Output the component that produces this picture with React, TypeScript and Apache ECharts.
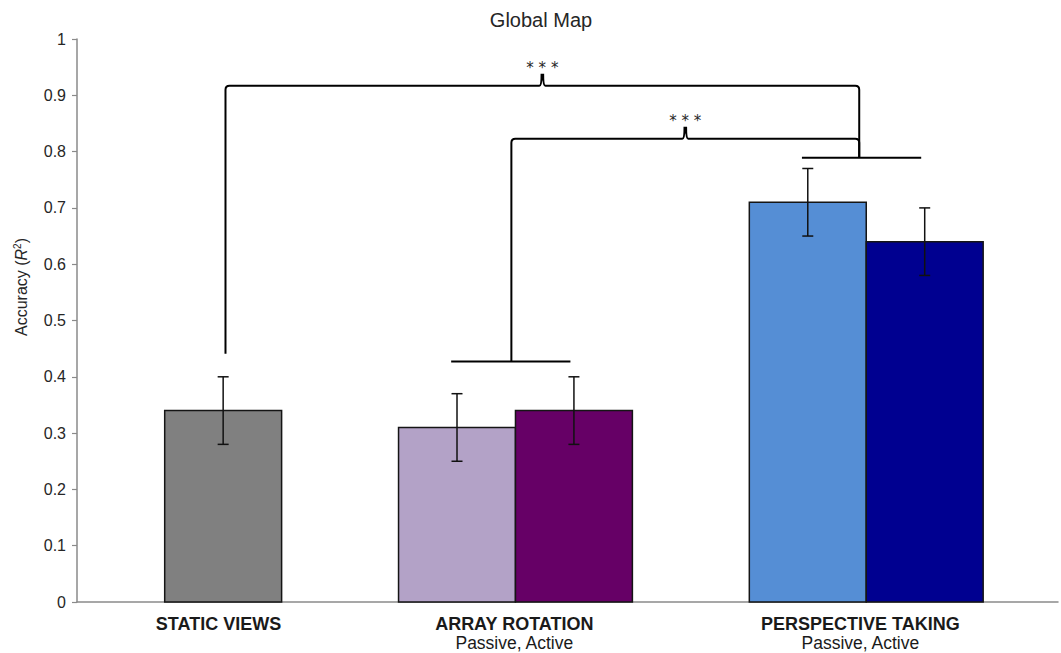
import React, { useEffect, useRef } from "react";
import * as echarts from "echarts";

// ---------- data ----------
const groupNames = ["STATIC VIEWS", "ARRAY ROTATION", "PERSPECTIVE TAKING"];
const groupSubLabels = ["", "Passive, Active", "Passive, Active"];
const barNames = ["Static Views", "Array Rotation Passive", "Array Rotation Active", "Perspective Taking Passive", "Perspective Taking Active"];
const barGroup = [0, 1, 1, 2, 2];
const barValues = [0.34, 0.31, 0.34, 0.71, 0.64];
const barErrors = [0.06, 0.06, 0.06, 0.06, 0.06];
const barColors = ["#808080", "#B3A2C7", "#660066", "#558ED5", "#000090"];

// significance brackets
const groupBracketBase = [0.441, 0.427, 0.789];
const compFrom = [0, 1];
const compTo = [2, 2];
const compLevel = [0.917, 0.823];
const compLabel = ["* * *", "* * *"];

const yTicks = [0, 0.1, 0.2, 0.3, 0.4, 0.5, 0.6, 0.7, 0.8, 0.9, 1];

// ---------- layout (slot units: one bar = 1) ----------
const LEAD = 0.75;
const GAP = 1;
const AXIS_MAX = 8.39;
const groupLeft: number[] = [];
{
  let x = LEAD;
  for (let g = 0; g < groupNames.length; g++) {
    groupLeft.push(x);
    const n = barGroup.filter((b) => b === g).length;
    x += n + GAP;
  }
}
const groupCount = groupNames.map((_, g) => barGroup.filter((b) => b === g).length);
const groupCenter = groupNames.map((_, g) => groupLeft[g] + groupCount[g] / 2);
const labelShift = [-0.04, -0.01, -0.05];
const labelPos = groupCenter.map((c, g) => c + labelShift[g]);
const barLeft = barGroup.map((g, i) => {
  const idx = barGroup.slice(0, i).filter((b) => b === g).length;
  return groupLeft[g] + idx;
});
const legShift = [0.02, -0.035, -0.06];
const lineHalf = 0.51;
const lineCenterShift = -0.04;

const FONT = "'Liberation Sans', Arial, Helvetica, sans-serif";

export default function App() {
  const ref = useRef<HTMLDivElement>(null);
  useEffect(() => {
    if (!ref.current) return;
    const chart = echarts.init(ref.current, undefined, { renderer: "svg" });

    const barData = barValues.map((v, i) => ({
      name: barNames[i],
      value: [barLeft[i], barLeft[i] + 1, v],
    }));
    const errData = barValues.map((v, i) => ({
      name: barNames[i],
      value: [barLeft[i] + 0.5, v - barErrors[i], v + barErrors[i]],
    }));

    const option: any = {
      animation: false,
      backgroundColor: "#ffffff",
      grid: { left: 77, right: 3, top: 39, bottom: 51, containLabel: false },
      xAxis: {
        type: "value",
        min: 0,
        max: AXIS_MAX,
        splitLine: { show: false },
        axisTick: { show: false },
        axisLine: { show: true, lineStyle: { color: "#8a8a8a", width: 1.5 } },
        axisLabel: {
          show: true,
          customValues: labelPos,
          margin: 12,
          formatter: (val: number) => {
            let best = 0;
            labelPos.forEach((c, g) => {
              if (Math.abs(c - val) < Math.abs(labelPos[best] - val)) best = g;
            });
            const sub = groupSubLabels[best];
            return sub ? `{b|${groupNames[best]}}\n{n|${sub}}` : `{b|${groupNames[best]}}`;
          },
          rich: {
            b: { fontFamily: FONT, fontSize: 18, fontWeight: "bold", color: "#1a1a1a", lineHeight: 19 },
            n: { fontFamily: FONT, fontSize: 17.5, color: "#1a1a1a", lineHeight: 19 },
          },
        },
      },
      yAxis: {
        type: "value",
        min: 0,
        max: 1,
        interval: 0.1,
        splitLine: { show: false },
        axisLine: { show: true, lineStyle: { color: "#8a8a8a", width: 1.5 } },
        axisTick: { show: true, inside: false, length: 5, lineStyle: { color: "#8a8a8a", width: 1.2 } },
        axisLabel: {
          margin: 11,
          fontFamily: FONT,
          fontSize: 16,
          color: "#262626",
          formatter: (v: number) => {
            const t = yTicks.find((k) => Math.abs(k - v) < 1e-6);
            return String(t !== undefined ? t : Math.round(v * 10) / 10);
          },
        },
      },
      graphic: [
        {
          type: "text",
          x: 541,
          y: 20,
          style: {
            text: "Global Map",
            fontFamily: FONT,
            fontSize: 20,
            fill: "#262626",
            align: "center",
            verticalAlign: "middle",
          },
        },
        {
          type: "text",
          x: 21,
          y: 287,
          rotation: Math.PI / 2,
          style: {
            text: "{a|Accuracy (}{i|R}{s|2}{a|)}",
            align: "center",
            verticalAlign: "middle",
            rich: {
              a: { fontFamily: FONT, fontSize: 16, fill: "#262626", color: "#262626" },
              i: { fontFamily: FONT, fontSize: 16, fontStyle: "italic", fill: "#262626", color: "#262626" },
              s: { fontFamily: FONT, fontSize: 10, fill: "#262626", color: "#262626", verticalAlign: "top", padding: [0, 0, 7, 0] },
            },
          },
        },
      ],
      series: [
        {
          type: "custom",
          name: "Bars",
          data: barData,
          encode: { x: [0, 1], y: 2 },
          renderItem: (params: any, api: any) => {
            const x0 = api.value(0);
            const x1 = api.value(1);
            const v = api.value(2);
            const p0 = api.coord([x0, v]);
            const p1 = api.coord([x1, 0]);
            return {
              type: "rect",
              shape: { x: p0[0], y: p0[1], width: p1[0] - p0[0], height: p1[1] - p0[1] },
              style: { fill: barColors[params.dataIndex], stroke: "#151515", lineWidth: 1.5 },
            };
          },
        },
        {
          type: "custom",
          name: "Error",
          data: errData,
          encode: { x: 0, y: [1, 2] },
          z: 5,
          renderItem: (params: any, api: any) => {
            const x = api.value(0);
            const lo = api.coord([x, api.value(1)]);
            const hi = api.coord([x, api.value(2)]);
            const cap = 5.5;
            const st = { stroke: "#111", lineWidth: 1.5 };
            return {
              type: "group",
              children: [
                { type: "line", shape: { x1: lo[0], y1: lo[1], x2: hi[0], y2: hi[1] }, style: st },
                { type: "line", shape: { x1: lo[0] - cap, y1: lo[1], x2: lo[0] + cap, y2: lo[1] }, style: st },
                { type: "line", shape: { x1: hi[0] - cap, y1: hi[1], x2: hi[0] + cap, y2: hi[1] }, style: st },
              ],
            };
          },
        },
        {
          type: "custom",
          name: "Significance",
          data: [[0, 0]],
          encode: { x: 0, y: 1 },
          clip: false,
          silent: true,
          z: 6,
          renderItem: (params: any, api: any) => {
            const children: any[] = [];
            const st = { stroke: "#000", lineWidth: 2, fill: null };
            groupNames.forEach((_, g) => {
              if (groupCount[g] > 1) {
                const c = groupCenter[g] + lineCenterShift;
                const a = api.coord([c - lineHalf, groupBracketBase[g]]);
                const b = api.coord([c + lineHalf, groupBracketBase[g]]);
                children.push({ type: "line", shape: { x1: a[0], y1: a[1], x2: b[0], y2: b[1] }, style: { stroke: "#000", lineWidth: 2 } });
              }
            });
            compFrom.forEach((f, k) => {
              const t = compTo[k];
              const lvl = compLevel[k];
              const L0 = api.coord([groupCenter[f] + legShift[f], groupBracketBase[f]]);
              const R0 = api.coord([groupCenter[t] + legShift[t], groupBracketBase[t]]);
              const top = api.coord([0, lvl])[1];
              const xl = L0[0];
              const xr = R0[0];
              const mid = (xl + xr) / 2;
              const r = 4;
              const h = 11;
              const d =
                `M ${xl} ${L0[1]} L ${xl} ${top + r} Q ${xl} ${top} ${xl + r} ${top} ` +
                `L ${mid - 3} ${top} Q ${mid - 0.8} ${top} ${mid - 0.8} ${top - h} L ${mid + 0.8} ${top - h} Q ${mid + 0.8} ${top} ${mid + 3} ${top} ` +
                `L ${xr - r} ${top} Q ${xr} ${top} ${xr} ${top + r} L ${xr} ${R0[1]}`;
              children.push({ type: "path", shape: { pathData: d }, style: st });
              children.push({
                type: "text",
                x: mid,
                y: top - 18,
                style: {
                  text: compLabel[k],
                  fontFamily: "'DejaVu Sans', sans-serif",
                  fontSize: 15,
                  fill: "#262626",
                  align: "center",
                  verticalAlign: "middle",
                },
              });
            });
            return { type: "group", children };
          },
        },
      ],
    };
    chart.setOption(option);
    return () => chart.dispose();
  }, []);
  return <div ref={ref} style={{ width: 1061, height: 653, position: "absolute", left: 0, top: 0 }} />;
}
